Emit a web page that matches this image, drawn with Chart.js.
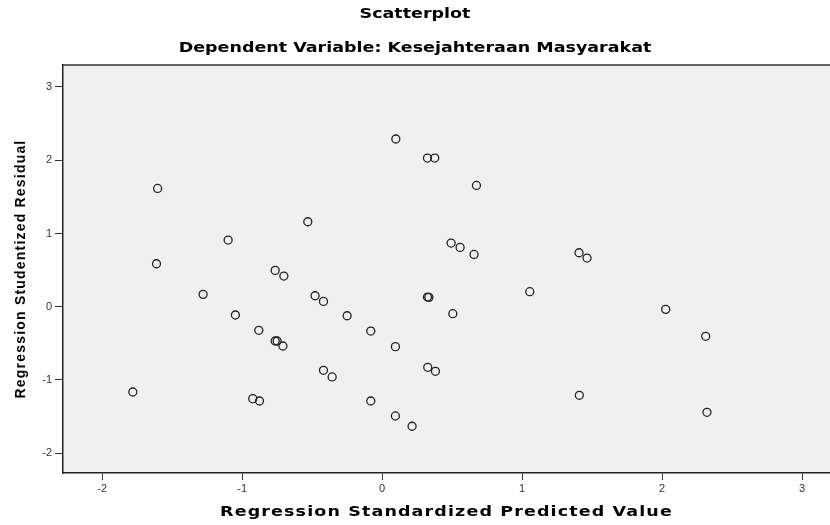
<!DOCTYPE html>
<html>
<head>
<meta charset="utf-8">
<script src="https://cdn.jsdelivr.net/npm/chart.js@4/dist/chart.umd.min.js"></script>
<style>
  html, body { margin: 0; padding: 0; background: #fff; overflow: hidden; }
  canvas { display: block; }
</style>
</head>
<body>
<canvas id="scatter" width="830" height="525"></canvas>
<script>
// values
const predicted = [
  0.098, -1.604, -0.531, -1.100, -1.612, -0.764, -0.702,
  0.324, 0.376, 0.674, 0.493, 0.557, 0.657, 1.407, 1.464,
  -1.279, -0.479, -0.419, -1.048, -0.250, -0.881, -0.081, -0.764, -0.750,
  -0.709, 0.095, -0.419, -0.357, -1.781, -0.924, -0.876, -0.081, 0.095, 0.214,
  0.324, 0.334, 1.055, 0.505, 2.026, 2.312, 0.326, 0.381, 1.409, 2.321
];
const residual = [
  2.29, 1.615, 1.16, 0.91, 0.587, 0.496, 0.419,
  2.03, 2.03, 1.656, 0.869, 0.81, 0.714, 0.737, 0.664,
  0.169, 0.15, 0.073, -0.113, -0.123, -0.322, -0.332, -0.468, -0.468,
  -0.536, -0.545, -0.868, -0.959, -1.164, -1.255, -1.287, -1.287, -1.491, -1.632,
  0.132, 0.128, 0.205, -0.095, -0.036, -0.404, -0.827, -0.882, -1.209, -1.441
];
const xTicks = [-2, -1, 0, 1, 2, 3];
const yTicks = [-2, -1, 0, 1, 2, 3];

const points = predicted.map((x, i) => ({ x: x, y: residual[i] }));

// grey plot area + top edge line
const plotBack = {
  id: 'plotBack',
  beforeDraw(chart) {
    const { ctx, chartArea: a } = chart;
    ctx.save();
    ctx.fillStyle = '#f0f0f0';
    ctx.fillRect(a.left, a.top, a.right - a.left, a.bottom - a.top);
    ctx.restore();
  },
  afterDraw(chart) {
    const { ctx, chartArea: a } = chart;
    ctx.save();
    ctx.strokeStyle = '#333';
    ctx.lineWidth = 1.5;
    ctx.beginPath();
    ctx.moveTo(a.left, a.top);
    ctx.lineTo(a.right, a.top);
    ctx.stroke();
    ctx.restore();
  }
};

// the SPSS titles are set wide: stretch them a bit around their centre
function widen(obj, method, stretch, spacing, centre) {
  if (obj['_wide_' + method]) return;
  obj['_wide_' + method] = true;
  const orig = obj[method];
  obj[method] = function() {
    const ctx = this.ctx;
    const cx = centre(this);
    ctx.save();
    ctx.letterSpacing = spacing + 'px';
    ctx.translate(cx, 0);
    ctx.scale(stretch, 1);
    ctx.translate(-cx, 0);
    orig.apply(this, arguments);
    ctx.restore();
  };
}

const wideText = {
  id: 'wideText',
  beforeDraw(chart) {
    chart.boxes.forEach(b => {
      if (!b.axis && b.options && typeof b.options.text === 'string') {
        widen(b, 'draw', 1.25, 0, o => (o.left + o.right) / 2);
      }
    });
    widen(chart.scales.x, 'drawTitle', 1.25, 0.9, o => (o.left + o.right) / 2);
    widen(chart.scales.y, 'drawTitle', 1, 1.2, o => 0);
  }
};

const tickFont = { family: 'Arial, "Liberation Sans"', size: 11 };
const boldFont = { family: 'Arial, "Liberation Sans"', size: 14, weight: 'bold' };
const wideFont = { family: '"DejaVu Sans"', size: 14, weight: 'bold' };

const chart = new Chart(document.getElementById('scatter'), {
  type: 'scatter',
  data: {
    datasets: [{
      data: points,
      pointStyle: 'circle',
      pointRadius: 4,
      pointHoverRadius: 4,
      borderWidth: 1.3,
      borderColor: '#222',
      backgroundColor: 'rgba(0,0,0,0)'
    }]
  },
  options: {
    responsive: false,
    animation: false,
    layout: { padding: 0, autoPadding: false },
    plugins: {
      legend: { display: false },
      tooltip: { enabled: false },
      title: {
        display: true,
        text: 'Scatterplot',
        color: '#000',
        font: wideFont,
        padding: { top: 6, bottom: 8 }
      },
      subtitle: {
        display: true,
        text: 'Dependent Variable: Kesejahteraan Masyarakat',
        color: '#000',
        font: wideFont,
        padding: { top: 8.8, bottom: 8.6 }
      }
    },
    scales: {
      x: {
        type: 'linear',
        min: -2.28,
        max: 3.2,
        afterBuildTicks(s) { s.ticks = xTicks.map(v => ({ value: v })); },
        afterFit(s) { s.height = 52; s.paddingLeft = 0; s.paddingRight = 0; },
        grid: { drawOnChartArea: false, tickLength: 7, color: '#333', tickWidth: 1 },
        border: { color: '#222', width: 1.5 },
        ticks: { color: '#333', font: tickFont, padding: 2 },
        title: {
          display: true,
          text: 'Regression Standardized Predicted Value',
          color: '#000',
          font: wideFont,
          padding: { top: 0, bottom: 4 }
        }
      },
      y: {
        type: 'linear',
        min: -2.27,
        max: 3.3,
        afterBuildTicks(s) { s.ticks = yTicks.map(v => ({ value: v })); },
        afterFit(s) { s.width = 63; s.paddingTop = 0; s.paddingBottom = 0; },
        grid: { drawOnChartArea: false, tickLength: 8, color: '#333', tickWidth: 1 },
        border: { color: '#222', width: 1.5 },
        ticks: { color: '#333', font: tickFont, padding: 3 },
        title: {
          display: true,
          text: 'Regression Studentized Residual',
          color: '#000',
          font: boldFont,
          padding: { top: 13, bottom: 0 }
        }
      }
    }
  },
  plugins: [plotBack, wideText]
});
chart.draw();
</script>
</body>
</html>
